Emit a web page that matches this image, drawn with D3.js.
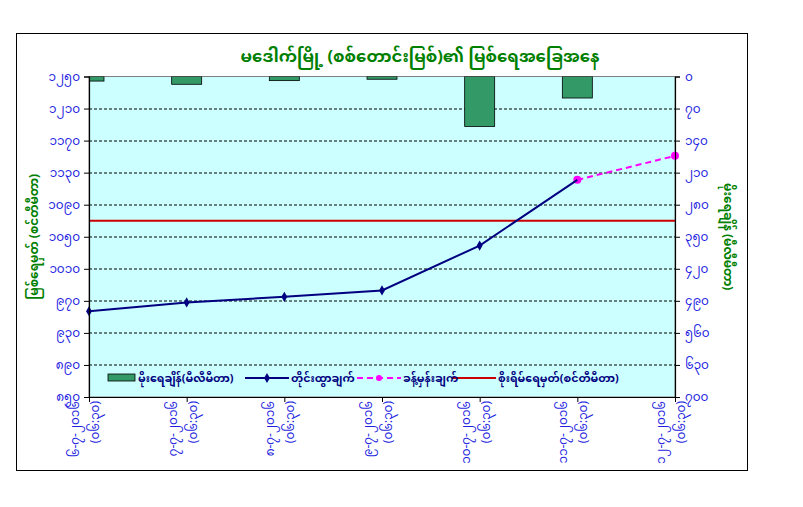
<!DOCTYPE html>
<html>
<head>
<meta charset="utf-8">
<script src="https://cdn.jsdelivr.net/npm/d3@7"></script>
<style>
  body { margin: 0; background: #fff; }
  svg text { font-family: "Noto Sans Myanmar", "Myanmar Text", "Padauk", "Noto Sans", sans-serif; }
  .tick-label { fill: #1f1fe0; font-size: 12px; }
  .legend-text { fill: #000080; font-size: 11px; font-weight: bold; }
</style>
</head>
<body>
<svg id="chart"></svg>
<script>
// categories (date + time of reading)
const dates = ['၆-၇-၂၀၁၆', '၇-၇-၂၀၁၆', '၈-၇-၂၀၁၆', '၉-၇-၂၀၁၆', '၁၀-၇-၂၀၁၆', '၁၁-၇-၂၀၁၆', '၁၂-၇-၂၀၁၆'];
const times = ['(၀၆:၃၀)', '(၀၆:၃၀)', '(၀၆:၃၀)', '(၀၆:၃၀)', '(၀၆:၃၀)', '(၀၆:၃၀)', '(၀၆:၃၀)'];

// series
const rainfall = [10, 17, 9, 6, 109, 47, null];              // mm, right axis
const observed = [957, 968, 975, 983, 1039, 1121, null];     // cm
const forecast = [null, null, null, null, null, 1121, 1151]; // cm
const dangerLevel = 1070;                                    // cm

// axis ticks
const levelTicks = [850, 890, 930, 970, 1010, 1050, 1090, 1130, 1170, 1210, 1250];
const rainTicks = [0, 70, 140, 210, 280, 350, 420, 490, 560, 630, 700];

// text
const title = 'မဒေါက်မြို့ (စစ်တောင်းမြစ်)၏ မြစ်ရေအခြေအနေ';
const leftTitle = 'မြစ်ရေမှတ် (စင်တီမီတာ)';
const rightTitle = 'မိုးရေချိန် (မီလီမီတာ)';
const legendNames = ['မိုးရေချိန်(မီလီမီတာ)', 'တိုင်းထွာချက်', 'ခန့်မှန်းချက်', 'စိုးရိမ်ရေမှတ်(စင်တီမီတာ)'];

const config = {
  containerWidth: 803,
  containerHeight: 507,
  margin: {top: 76.5, right: 128, bottom: 110, left: 89},
  barWidth: 30
}
config.width = config.containerWidth - config.margin.left - config.margin.right;
config.height = config.containerHeight - config.margin.top - config.margin.bottom;

// turn 1250 into ၁၂၅၀
const mmDigits = '၀၁၂၃၄၅၆၇၈၉';
const toMyanmar = n => String(n).replace(/[0-9]/g, c => mmDigits[+c]);

const svg = d3.select('#chart')
    .attr('width', config.containerWidth)
    .attr('height', config.containerHeight);

// outer chart border
svg.append('rect')
    .attr('x', 16.5).attr('y', 33.5)
    .attr('width', 731).attr('height', 437)
    .attr('fill', '#fff')
    .attr('stroke', '#000')
    .attr('stroke-width', 1);

const chart = svg.append('g')
    .attr('transform', `translate(${config.margin.left},${config.margin.top})`);

// scales
const xScale = d3.scalePoint()
    .domain(d3.range(dates.length))
    .range([0, config.width]);

const yLevel = d3.scaleLinear()
    .domain([levelTicks[0], levelTicks[levelTicks.length - 1]])
    .range([config.height, 0]);

const yRain = d3.scaleLinear()
    .domain([rainTicks[0], rainTicks[rainTicks.length - 1]])
    .range([0, config.height]);

// plot background
chart.append('rect')
    .attr('width', config.width)
    .attr('height', config.height)
    .attr('fill', '#ccffff')
    .attr('stroke', '#808080');

// gridlines
chart.selectAll('.grid')
    .data(levelTicks.slice(1, -1))
  .join('line')
    .attr('class', 'grid')
    .attr('x1', 0).attr('x2', config.width)
    .attr('y1', d => Math.round(yLevel(d)) + 0.5)
    .attr('y2', d => Math.round(yLevel(d)) + 0.5)
    .attr('stroke', '#000')
    .attr('stroke-dasharray', '3,2');

// clip so the first bar gets cut at the axis like excel does
svg.append('clipPath').attr('id', 'plot-clip')
  .append('rect')
    .attr('width', config.width)
    .attr('height', config.height);

const plot = chart.append('g').attr('clip-path', 'url(#plot-clip)');

// rainfall bars hang from the top
const rainData = rainfall.map((v, i) => ({i, v})).filter(d => d.v != null);
plot.selectAll('.bar')
    .data(rainData)
  .join('rect')
    .attr('class', 'bar')
    .attr('x', d => xScale(d.i) - config.barWidth / 2)
    .attr('y', yRain(0))
    .attr('width', config.barWidth)
    .attr('height', d => yRain(d.v) - yRain(0))
    .attr('fill', '#339966')
    .attr('stroke', '#000')
    .attr('stroke-width', 0.8);

// danger level
plot.append('line')
    .attr('x1', 0).attr('x2', config.width)
    .attr('y1', yLevel(dangerLevel)).attr('y2', yLevel(dangerLevel))
    .attr('stroke', '#cc0000')
    .attr('stroke-width', 2);

// observed line
const obsData = observed.map((v, i) => ({i, v})).filter(d => d.v != null);
const fcData = forecast.map((v, i) => ({i, v})).filter(d => d.v != null);
const line = d3.line().x(d => xScale(d.i)).y(d => yLevel(d.v));

chart.append('path')
    .datum(fcData)
    .attr('d', line)
    .attr('fill', 'none')
    .attr('stroke', '#ff00ff')
    .attr('stroke-width', 2)
    .attr('stroke-dasharray', '6,4');

chart.selectAll('.fc-dot')
    .data(fcData)
  .join('circle')
    .attr('class', 'fc-dot')
    .attr('cx', d => xScale(d.i))
    .attr('cy', d => yLevel(d.v))
    .attr('r', 4)
    .attr('fill', '#ff00ff');

chart.append('path')
    .datum(obsData)
    .attr('d', line)
    .attr('fill', 'none')
    .attr('stroke', '#000080')
    .attr('stroke-width', 2);

const diamond = d3.symbol().type(d3.symbolDiamond).size(30);
chart.selectAll('.obs-dot')
    .data(obsData.slice(0, -1))
  .join('path')
    .attr('class', 'obs-dot')
    .attr('transform', d => `translate(${xScale(d.i)},${yLevel(d.v)})`)
    .attr('d', diamond)
    .attr('fill', '#000080');

// axes
const leftAxis = d3.axisLeft(yLevel)
    .tickValues(levelTicks)
    .tickSize(5)
    .tickPadding(4)
    .tickFormat(toMyanmar);

const rightAxis = d3.axisRight(yRain)
    .tickValues(rainTicks)
    .tickSize(5)
    .tickPadding(5)
    .tickFormat(toMyanmar);

const bottomAxis = d3.axisBottom(xScale)
    .tickSize(5)
    .tickSizeOuter(0)
    .tickFormat('');

const leftG = chart.append('g').call(leftAxis);
const rightG = chart.append('g')
    .attr('transform', `translate(${config.width},0)`)
    .call(rightAxis);
const bottomG = chart.append('g')
    .attr('transform', `translate(0,${config.height})`)
    .call(bottomAxis);

[leftG, rightG, bottomG].forEach(g => {
  g.selectAll('.domain').attr('stroke', '#000').attr('stroke-width', 1.2);
  g.selectAll('line').attr('stroke', '#000');
  g.selectAll('text').attr('class', 'tick-label').attr('font-size', null).attr('font-family', null);
});

// rotated category labels, two lines each
const xLabels = chart.selectAll('.x-label')
    .data(dates.map((d, i) => ({i, date: d, time: times[i]})))
  .join('g')
    .attr('class', 'x-label')
    .attr('transform', d => `translate(${xScale(d.i)},${config.height + 4})`);

xLabels.append('text')
    .attr('class', 'tick-label')
    .attr('transform', 'translate(-10,0) rotate(-90)')
    .attr('text-anchor', 'end')
    .text(d => d.date);

xLabels.append('text')
    .attr('class', 'tick-label')
    .attr('transform', 'translate(10,0) rotate(-90)')
    .attr('text-anchor', 'end')
    .text(d => d.time);

// titles
svg.append('text')
    .attr('x', 420).attr('y', 62)
    .attr('text-anchor', 'middle')
    .attr('fill', '#008000')
    .attr('font-size', 16.5)
    .attr('font-weight', 'bold')
    .text(title);

svg.append('text')
    .attr('transform', `translate(38,${config.margin.top + config.height / 2}) rotate(-90)`)
    .attr('text-anchor', 'middle')
    .attr('fill', '#008000')
    .attr('font-size', 12)
    .attr('font-weight', 'bold')
    .text(leftTitle);

svg.append('text')
    .attr('transform', `translate(724,${config.margin.top + config.height / 2}) rotate(90)`)
    .attr('text-anchor', 'middle')
    .attr('fill', '#008000')
    .attr('font-size', 12)
    .attr('font-weight', 'bold')
    .text(rightTitle);

// legend, sits inside the plot area at the bottom
const legend = svg.append('g').attr('transform', 'translate(0,378)');
const legendX = [108, 245, 357, 452];

legend.append('rect')
    .attr('x', legendX[0]).attr('y', -4)
    .attr('width', 27).attr('height', 7)
    .attr('fill', '#339966').attr('stroke', '#000').attr('stroke-width', 0.8);

legend.append('line')
    .attr('x1', legendX[1]).attr('x2', legendX[1] + 44)
    .attr('stroke', '#000080').attr('stroke-width', 2);
legend.append('path')
    .attr('transform', `translate(${legendX[1] + 22},0)`)
    .attr('d', diamond).attr('fill', '#000080');

legend.append('line')
    .attr('x1', legendX[2]).attr('x2', legendX[2] + 44)
    .attr('stroke', '#ff00ff').attr('stroke-width', 2).attr('stroke-dasharray', '6,4');
legend.append('circle')
    .attr('cx', legendX[2] + 22).attr('r', 3).attr('fill', '#ff00ff');

legend.append('line')
    .attr('x1', legendX[3]).attr('x2', legendX[3] + 44)
    .attr('stroke', '#cc0000').attr('stroke-width', 2);

legend.selectAll('.legend-text')
    .data(legendNames)
  .join('text')
    .attr('class', 'legend-text')
    .attr('x', (d, i) => legendX[i] + (i === 0 ? 30 : 46))
    .attr('y', 4)
    .text(d => d);
</script>
</body>
</html>
